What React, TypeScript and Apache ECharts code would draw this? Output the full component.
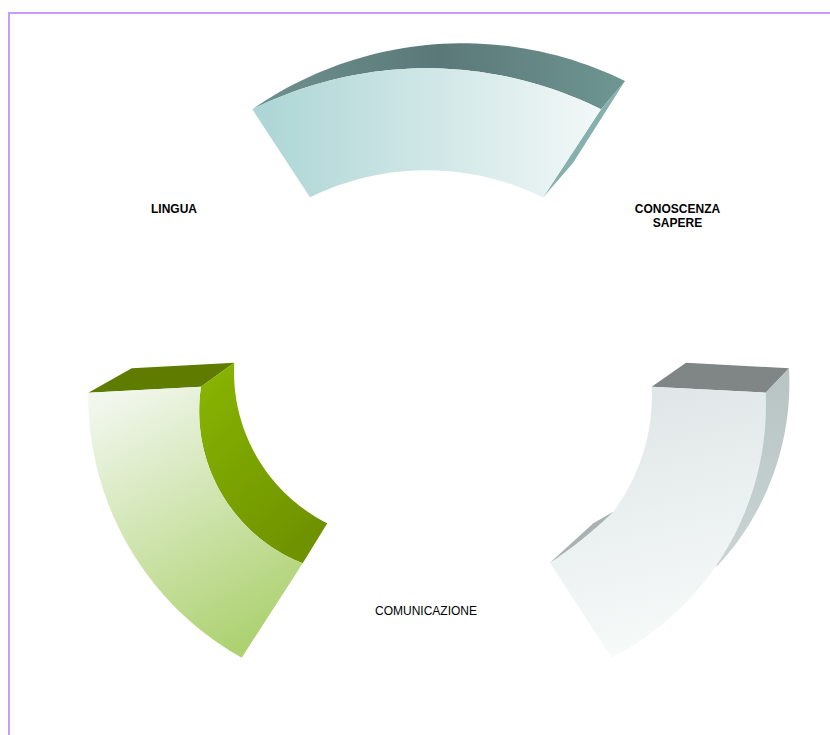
import React, { useEffect, useRef } from "react";
import * as echarts from "echarts";

type P = [number, number];
// each edge: 2 points = straight, 3 points = arc through the middle point
const topFaceA: P[][] = [[[252.3, 109.3], [466.7, 43.3], [625, 81]], [[625, 81], [601, 109.3]], [[601, 109.3], [423.3, 68.3], [252.3, 109.3]]];
const topFaceB: P[][] = [[[625, 81], [573, 163]], [[573, 163], [543, 197.5]], [[543, 197.5], [601, 109.3]], [[601, 109.3], [625, 81]]];
const topFaceC: P[][] = [[[252.3, 109.3], [423.3, 68.3], [601, 109.3]], [[601, 109.3], [543, 197.5]], [[543, 197.5], [426.7, 170.3], [310, 197.3]], [[310, 197.3], [252.3, 109.3]]];

const leftFaceA: P[][] = [[[88.3, 392.7], [131.7, 368.3]], [[131.7, 368.3], [234.3, 362.7]], [[234.3, 362.7], [201, 386.7]], [[201, 386.7], [88.3, 392.7]]];
const leftFaceB: P[][] = [[[234.3, 362.7], [256.7, 456.7], [327.3, 523.3]], [[327.3, 523.3], [302.7, 563.3]], [[302.7, 563.3], [230, 506.7], [201, 386.7]], [[201, 386.7], [234.3, 362.7]]];
const leftFaceC: P[][] = [[[88.3, 392.7], [201, 386.7]], [[201, 386.7], [230, 506.7], [302.7, 563.3]], [[302.7, 563.3], [241.7, 657.7]], [[241.7, 657.7], [125, 540], [88.3, 392.7]]];

const rightFaceA: P[][] = [[[651.7, 386.7], [686, 362.7]], [[686, 362.7], [789, 368.3]], [[789, 368.3], [765.7, 392.7]], [[765.7, 392.7], [651.7, 386.7]]];
const rightFaceB: P[][] = [[[789, 368.3], [770, 483], [716.7, 566.7]], [[716.7, 566.7], [700, 500]], [[700, 500], [765.7, 392.7]], [[765.7, 392.7], [789, 368.3]]];
const rightFaceC: P[][] = [[[550, 562.7], [593.3, 523.3]], [[593.3, 523.3], [613.3, 511.7]], [[613.3, 511.7], [590, 545]], [[590, 545], [550, 562.7]]];
const rightFaceD: P[][] = [[[651.7, 386.7], [765.7, 392.7]], [[765.7, 392.7], [743, 516.7], [611.7, 657.7]], [[611.7, 657.7], [550, 562.7]], [[550, 562.7], [583, 538.5], [613.3, 511.7]], [[613.3, 511.7], [646.7, 440], [651.7, 386.7]]];

const faces = [topFaceA, topFaceB, topFaceC, leftFaceA, leftFaceB, leftFaceC, rightFaceA, rightFaceB, rightFaceC, rightFaceD];

const labelLingua = "LINGUA";
const labelConoscenza = "CONOSCENZA\nSAPERE";
const labelComunicazione = "COMUNICAZIONE";

const grad = (x: number, y: number, x2: number, y2: number, a: string, b: string, mid?: string) =>
  new echarts.graphic.LinearGradient(x, y, x2, y2, mid
    ? [{ offset: 0, color: a }, { offset: 0.5, color: mid }, { offset: 1, color: b }]
    : [{ offset: 0, color: a }, { offset: 1, color: b }]);

const fills = [
  grad(0, 0, 1, 0, "#6e9290", "#6e9693", "#5b7878"),
  "#85b0ad",
  grad(0, 0, 1, 0, "#acd5d5", "#f2f8f7"),
  "#5f7c00",
  grad(0, 0, 0.6, 1, "#8ab600", "#6f9300"),
  grad(0.15, 0, 0.6, 1, "#f2f7ee", "#aed272"),
  "#808685",
  grad(0, 0, 0, 1, "#b8c4c4", "#c9d4d3"),
  "#a8b2b0",
  grad(0.3, 0, 0.5, 1, "#dfe5e6", "#f7fbfa"),
];

function sampleEdge(e: P[]): P[] {
  if (e.length < 3) return e;
  const [a, m, b] = e;
  const d = 2 * (a[0] * (m[1] - b[1]) + m[0] * (b[1] - a[1]) + b[0] * (a[1] - m[1]));
  const s = (p: P) => p[0] * p[0] + p[1] * p[1];
  const cx = (s(a) * (m[1] - b[1]) + s(m) * (b[1] - a[1]) + s(b) * (a[1] - m[1])) / d;
  const cy = (s(a) * (b[0] - m[0]) + s(m) * (a[0] - b[0]) + s(b) * (m[0] - a[0])) / d;
  const r = Math.hypot(a[0] - cx, a[1] - cy);
  const ang = (p: P) => Math.atan2(p[1] - cy, p[0] - cx);
  const a0 = ang(a);
  const norm = (t: number) => ((t % (2 * Math.PI)) + 2 * Math.PI) % (2 * Math.PI);
  const dm = norm(ang(m) - a0);
  const db = norm(ang(b) - a0);
  const sweep = dm < db ? db : db - 2 * Math.PI;
  const out: P[] = [];
  const n = 48;
  for (let i = 0; i <= n; i++) {
    const t = a0 + (sweep * i) / n;
    out.push([cx + r * Math.cos(t), cy + r * Math.sin(t)]);
  }
  return out;
}

const textStyle = { fontFamily: "'Liberation Sans', Arial, sans-serif", fontSize: 12, fill: "#000", align: "center", verticalAlign: "middle", lineHeight: 14 };

export default function App() {
  const ref = useRef<HTMLDivElement>(null);
  useEffect(() => {
    const chart = echarts.init(ref.current!, null, { renderer: "svg" });
    chart.setOption({
      animation: false,
      backgroundColor: "#ffffff",
      grid: { left: 0, right: 0, top: 0, bottom: 0 },
      xAxis: { type: "value", min: 0, max: 830, show: false },
      yAxis: { type: "value", min: 0, max: 735, inverse: true, show: false },
      series: [{
        type: "custom",
        coordinateSystem: "cartesian2d",
        clip: false,
        silent: true,
        data: faces.map((_, i) => [i, i]),
        renderItem: (params: any, api: any) => {
          const pts: number[][] = [];
          faces[params.dataIndex].forEach((edge) => {
            sampleEdge(edge).forEach((p) => pts.push(api.coord(p)));
          });
          return { type: "polygon", shape: { points: pts }, style: { fill: fills[params.dataIndex] } };
        },
      }],
      graphic: [
        { type: "rect", shape: { x: 8, y: 12, width: 822, height: 2 }, style: { fill: "#c89cff" } },
        { type: "rect", shape: { x: 8, y: 12, width: 2, height: 723 }, style: { fill: "#c89cff" } },
        { type: "text", x: 174, y: 209, style: { ...textStyle, text: labelLingua, fontWeight: "bold" } },
        { type: "text", x: 677.5, y: 216, style: { ...textStyle, text: labelConoscenza, fontWeight: "bold" } },
        { type: "text", x: 426, y: 611, style: { ...textStyle, text: labelComunicazione } },
      ],
    });
    return () => chart.dispose();
  }, []);
  return <div ref={ref} style={{ position: "fixed", left: 0, top: 0, width: 830, height: 735 }} />;
}
